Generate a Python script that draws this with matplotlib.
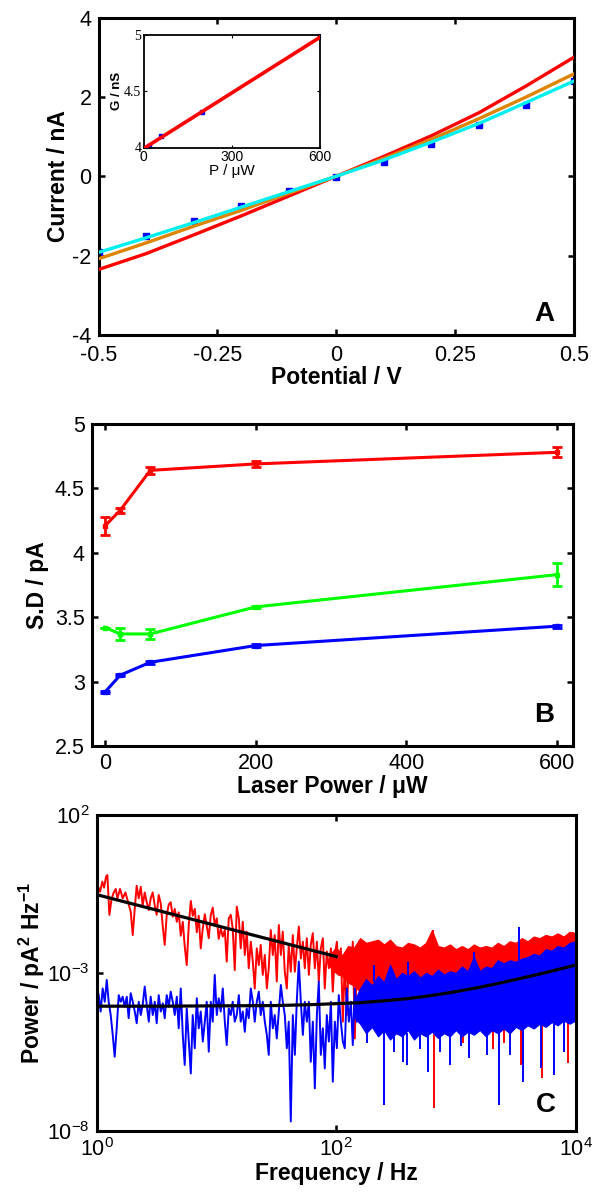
import numpy as np
import matplotlib
matplotlib.use("Agg")
import matplotlib.pyplot as plt

plt.rcParams['font.family'] = ['Liberation Sans', 'DejaVu Sans']
plt.rcParams['mathtext.fontset'] = 'custom'
plt.rcParams['mathtext.rm'] = 'Liberation Sans'
plt.rcParams['mathtext.bf'] = 'Liberation Sans:bold'
plt.rcParams['mathtext.it'] = 'Liberation Sans:italic'

# ---------------- Panel A data ----------------
iv_potential = [-0.5, -0.4, -0.3, -0.2, -0.1, 0.0, 0.1, 0.2, 0.3, 0.4, 0.5]
iv_red = [-2.35, -1.95, -1.48, -1.00, -0.50, 0.0, 0.50, 1.02, 1.60, 2.28, 3.00]
iv_orange = [-2.08, -1.68, -1.26, -0.86, -0.43, 0.0, 0.45, 0.93, 1.45, 2.00, 2.58]
iv_cyan = [-1.92, -1.55, -1.17, -0.78, -0.39, 0.0, 0.41, 0.86, 1.33, 1.86, 2.40]
iv_blue_pts = [-1.92, -1.50, -1.13, -0.74, -0.38, -0.03, 0.37, 0.81, 1.30, 1.80, 2.40]

inset_power = [0, 20, 60, 200, 600]
inset_g = [4.00, 4.01, 4.10, 4.315, 4.98]
inset_fit_p = [0, 600]
inset_fit_g = [3.99, 4.98]

# ---------------- Panel B data ----------------
laser_power = [0, 20, 60, 200, 600]
sd_red = [4.21, 4.33, 4.64, 4.69, 4.78]
sd_red_err = [0.07, 0.02, 0.03, 0.02, 0.04]
sd_green = [3.42, 3.37, 3.37, 3.58, 3.83]
sd_green_err = [0.0, 0.05, 0.04, 0.01, 0.09]
sd_blue = [2.92, 3.05, 3.15, 3.28, 3.43]
sd_blue_err = [0.01, 0.01, 0.01, 0.01, 0.01]

# ---------------- Panel C data (log10 values) ----------------
red_trace_logf = [0.006, 0.028, 0.047, 0.061, 0.078, 0.089, 0.106, 0.123, 0.139, 0.159, 0.173, 0.195, 0.217,
                  0.240, 0.262, 0.284, 0.301, 0.318, 0.334, 0.351, 0.368, 0.384, 0.401, 0.418, 0.435, 0.451,
                  0.468, 0.485, 0.501, 0.518, 0.535, 0.552, 0.568, 0.585, 0.602, 0.618, 0.635, 0.652, 0.669,
                  0.685, 0.702, 0.719, 0.735, 0.752, 0.769, 0.786, 0.802, 0.819, 0.836, 0.852, 0.869, 0.886,
                  0.903, 0.919, 0.936, 0.953, 0.969, 0.986, 1.003, 1.019, 1.036, 1.053, 1.070, 1.086, 1.103,
                  1.120, 1.136, 1.153, 1.170, 1.187, 1.203, 1.220, 1.237, 1.253, 1.270, 1.287, 1.304, 1.320,
                  1.337, 1.354, 1.370, 1.387, 1.404, 1.421, 1.437, 1.454, 1.471, 1.487, 1.504, 1.521, 1.538,
                  1.554, 1.571, 1.588, 1.604, 1.621, 1.638, 1.655, 1.671, 1.688, 1.705, 1.722, 1.738, 1.755,
                  1.772, 1.788, 1.805, 1.822, 1.839, 1.855, 1.872, 1.889, 1.905, 1.922, 1.939, 1.956, 1.972,
                  1.989, 2.006, 2.022, 2.039, 2.056, 2.072, 2.089, 2.106, 2.123, 2.139, 2.156, 2.173, 2.189]
red_trace_logp = [-0.21, -0.43, -0.11, -0.30, 0.05, 0.10, -1.16, -0.69, -0.48, -0.34, -0.64, -0.34, -0.64,
                  -0.45, -0.76, -1.06, -1.80, -0.95, -0.24, -0.64, -0.27, -0.87, -0.45, -0.76, -1.01, -0.64,
                  -0.45, -0.87, -1.16, -0.53, -0.80, -1.53, -2.11, -1.16, -0.83, -0.76, -1.22, -0.97, -1.38,
                  -1.08, -1.82, -1.38, -2.14, -2.75, -1.48, -0.72, -1.19, -0.97, -1.71, -1.19, -2.22, -1.59,
                  -1.14, -1.50, -1.90, -1.16, -0.93, -1.48, -1.27, -1.92, -1.59, -1.85, -1.64, -2.64, -1.27,
                  -1.16, -1.59, -2.91, -0.90, -1.27, -2.22, -1.38, -2.43, -1.69, -2.85, -2.01, -2.64, -3.49,
                  -2.22, -2.75, -2.11, -3.06, -2.43, -3.49, -2.85, -1.64, -2.43, -1.80, -3.27, -1.48, -2.43,
                  -1.69, -2.96, -3.49, -2.11, -2.96, -1.80, -2.96, -2.22, -1.53, -2.54, -2.01, -2.85, -1.90,
                  -3.06, -2.11, -1.74, -2.85, -2.01, -3.27, -2.22, -1.90, -3.49, -2.32, -2.85, -2.22, -3.59,
                  -2.43, -2.01, -3.06, -2.22, -4.54, -2.64, -4.33, -2.54, -3.27, -2.01, -5.07, -2.54, -3.49]

blue_trace_logf = [0.000, 0.017, 0.033, 0.050, 0.067, 0.084, 0.100, 0.117, 0.134, 0.150, 0.167, 0.184, 0.201,
                   0.217, 0.234, 0.251, 0.267, 0.284, 0.301, 0.318, 0.334, 0.351, 0.368, 0.384, 0.401, 0.418,
                   0.435, 0.451, 0.468, 0.485, 0.501, 0.518, 0.535, 0.552, 0.568, 0.585, 0.602, 0.618, 0.635,
                   0.652, 0.669, 0.685, 0.702, 0.719, 0.735, 0.752, 0.769, 0.786, 0.802, 0.819, 0.836, 0.852,
                   0.869, 0.886, 0.903, 0.919, 0.936, 0.953, 0.969, 0.986, 1.003, 1.019, 1.036, 1.053, 1.070,
                   1.086, 1.103, 1.120, 1.136, 1.153, 1.170, 1.187, 1.203, 1.220, 1.237, 1.253, 1.270, 1.287,
                   1.304, 1.320, 1.337, 1.354, 1.370, 1.387, 1.404, 1.421, 1.437, 1.454, 1.471, 1.487, 1.504,
                   1.521, 1.538, 1.554, 1.571, 1.588, 1.604, 1.621, 1.638, 1.655, 1.671, 1.688, 1.705, 1.722,
                   1.738, 1.755, 1.772, 1.788, 1.805, 1.822, 1.839, 1.855, 1.872, 1.889, 1.905, 1.922, 1.939,
                   1.956, 1.972, 1.989, 2.006, 2.022, 2.039, 2.056, 2.072, 2.089, 2.106, 2.123, 2.139, 2.156,
                   2.173, 2.189]
blue_trace_logp = [-3.43, -3.70, -4.22, -3.49, -3.91, -3.22, -3.91, -4.33, -4.96, -5.65, -4.75, -3.70, -3.91,
                   -3.75, -4.07, -3.75, -4.43, -3.64, -3.91, -4.22, -4.59, -3.91, -4.33, -4.01, -3.43, -4.01,
                   -4.54, -3.75, -4.33, -3.91, -4.59, -3.70, -4.22, -3.96, -4.43, -3.70, -4.07, -3.59, -3.91,
                   -4.33, -3.75, -4.75, -3.49, -4.96, -5.91, -4.12, -5.17, -6.18, -4.33, -5.38, -3.80, -4.75,
                   -4.22, -5.17, -4.54, -3.91, -5.49, -3.91, -4.54, -3.06, -4.33, -3.80, -4.22, -3.49, -4.54,
                   -5.28, -4.12, -4.33, -3.91, -4.54, -4.33, -3.70, -4.54, -4.22, -4.86, -4.12, -4.43, -3.49,
                   -3.91, -4.54, -3.91, -3.59, -4.33, -3.91, -4.54, -4.96, -5.59, -3.91, -4.75, -4.33, -5.07,
                   -4.22, -3.38, -3.91, -4.33, -5.38, -4.54, -7.70, -4.33, -5.59, -3.91, -2.64, -3.91, -4.96,
                   -3.91, -4.54, -3.91, -5.81, -4.54, -6.65, -4.33, -3.27, -5.59, -4.75, -6.02, -4.33, -5.17,
                   -3.91, -6.44, -4.54, -5.38, -3.70, -4.54, -5.17, -5.38, -3.49, -4.54, -3.91, -5.28, -3.49,
                   -4.54, -4.12]

band_logf_red = [1.95, 2.00, 2.05, 2.10, 2.15, 2.20, 2.25, 2.30, 2.35, 2.40, 2.45, 2.50,
                 2.55, 2.60, 2.65, 2.70, 2.75, 2.80, 2.85, 2.90, 2.95, 3.00, 3.05, 3.10, 3.15, 3.20, 3.25,
                 3.30, 3.35, 3.40, 3.45, 3.50, 3.55, 3.60, 3.65, 3.70, 3.75, 3.80, 3.85, 3.90, 3.95, 4.00]
red_band_hi = [-2.40, -2.20, -2.45, -2.15, -2.20, -1.90, -2.05, -2.00, -1.95, -2.10,
               -1.95, -2.15, -2.20, -2.05, -2.10, -2.20, -2.05, -1.65, -2.15, -2.20, -2.10, -2.25, -2.15,
               -2.25, -2.10, -2.20, -2.15, -2.20, -2.05, -2.15, -2.00, -2.05, -1.90, -2.00, -1.85, -1.90,
               -1.80, -1.85, -1.75, -1.85, -1.70, -1.75]
red_band_lo = [-2.80, -3.00, -3.10, -3.30, -3.40, -3.60, -3.80, -4.00, -4.30, -4.20,
               -4.40, -4.30, -4.50, -4.40, -4.50, -4.50, -4.50, -4.50, -4.50, -4.50, -4.50, -4.50, -4.50,
               -4.50, -4.50, -4.50, -4.50, -4.50, -4.50, -4.50, -4.50, -4.50, -4.50, -4.50, -4.50, -4.50,
               -4.50, -4.50, -4.50, -4.50, -4.50, -4.50]

band_logf_blue = [2.15, 2.20, 2.25, 2.30, 2.35, 2.40, 2.45, 2.50, 2.55, 2.60, 2.65, 2.70, 2.75, 2.80,
                  2.85, 2.90, 2.95, 3.00, 3.05, 3.10, 3.15, 3.20, 3.25, 3.30, 3.35, 3.40, 3.45, 3.50, 3.55,
                  3.60, 3.65, 3.70, 3.75, 3.80, 3.85, 3.90, 3.95, 4.00]
blue_band_hi = [-3.90, -3.50, -3.20, -3.40, -3.10, -3.30, -2.75, -3.20, -3.00, -3.10, -2.95, -3.15,
                -3.00, -3.10, -2.90, -3.05, -2.95, -3.00, -2.80, -2.95, -2.50, -2.95, -2.80, -2.85, -2.60,
                -2.70, -2.60, -2.65, -2.55, -2.50, -2.40, -2.45, -2.25, -2.30, -2.15, -2.20, -2.05, -2.00]
blue_band_lo = [-4.40, -4.60, -4.90, -4.70, -5.00, -4.80, -5.10, -4.90, -5.00, -4.80, -5.10, -4.90,
                -5.00, -4.85, -5.05, -4.90, -5.00, -4.80, -5.00, -4.85, -4.95, -4.80, -5.00, -4.80, -4.90,
                -4.75, -4.90, -4.70, -4.80, -4.65, -4.75, -4.60, -4.70, -4.55, -4.65, -4.50, -4.60, -4.50]

red_spike_logf = [2.52, 2.81, 2.82, 3.06, 3.31, 3.40, 3.54, 3.72, 3.94, 3.98]
red_spike_base = [-4.30, -2.10, -4.50, -4.50, -4.50, -4.50, -4.50, -4.50, -4.50, -2.00]
red_spike_tip = [-4.95, -1.64, -7.28, -5.20, -5.40, -5.20, -5.91, -6.33, -5.86, -1.69]

blue_spike_logf = [2.26, 2.32, 2.40, 2.48, 2.56, 2.59, 2.60, 2.70, 2.77, 2.87, 2.95, 3.04, 3.11, 3.15,
                   3.26, 3.36, 3.45, 3.53, 3.56, 3.71, 3.82, 3.90]
blue_spike_base = [-4.60, -3.30, -4.80, -4.80, -4.90, -4.90, -3.10, -4.90, -4.90, -4.90, -4.90, -4.90,
                   -4.85, -2.90, -4.90, -4.80, -4.80, -2.60, -4.70, -4.60, -4.55, -4.50]
blue_spike_tip = [-5.20, -2.75, -7.18, -5.50, -5.81, -5.91, -2.64, -5.40, -6.12, -5.50, -5.91, -5.30,
                  -5.70, -2.32, -5.60, -7.18, -5.60, -1.53, -6.44, -6.00, -6.23, -5.50]

fit_red_logf = [0.0, 1.0, 2.0]
fit_red_logp = [-0.52, -1.50, -2.48]
fit_blue_logf = [0.0, 0.5, 1.0, 1.5, 1.8, 2.0, 2.2, 2.4, 2.6, 2.8, 3.0, 3.2, 3.4, 3.6, 3.8, 4.0]
fit_blue_logp = [-4.05, -4.05, -4.04, -4.03, -4.00, -3.97, -3.94, -3.88, -3.81, -3.71, -3.59, -3.45,
                 -3.29, -3.12, -2.94, -2.75]

# ---------------- Figure ----------------
W, H = 597, 1197
fig = plt.figure(figsize=(W / 100, H / 100), dpi=100)

RED = '#ff0000'
ORANGE = '#dd8500'
CYAN = '#00f0f0'
BLUE = '#0000ff'
GREEN = '#00ff00'

TICK_FS = 15.5
LABEL_FS = 16.5
LETTER_FS = 20


def ax_rect(l, t, r, b):
    return [l / W, 1 - b / H, (r - l) / W, (b - t) / H]


def style_axes(ax, lw=2.2, xpad=5):
    for s in ax.spines.values():
        s.set_linewidth(lw)
    ax.tick_params(direction='in', top=True, right=True, length=4, width=1.8,
                   labelsize=TICK_FS, pad=5)
    ax.tick_params(axis='x', pad=xpad)


# ----- Panel A -----
axA = fig.add_axes(ax_rect(98.5, 17.5, 574, 335))
axA.plot(iv_potential, iv_blue_pts, 's', color=BLUE, ms=4.5, zorder=2)
axA.plot(iv_potential, iv_red, '-', color=RED, lw=2.4, zorder=3)
axA.plot(iv_potential, iv_orange, '-', color=ORANGE, lw=2.4, zorder=4)
axA.plot(iv_potential, iv_cyan, '-', color=CYAN, lw=2.4, zorder=5)
axA.set_xlim(-0.5, 0.5)
axA.set_ylim(-4, 4)
axA.set_xticks([-0.5, -0.25, 0, 0.25, 0.5])
axA.set_xticklabels(['-0.5', '-0.25', '0', '0.25', '0.5'])
axA.set_yticks([-4, -2, 0, 2, 4])
axA.set_yticklabels(['-4', '-2', '0', '2', '4'])
style_axes(axA, xpad=7)
axA.set_xlabel('Potential / V', fontsize=LABEL_FS, fontweight='bold', labelpad=0)
axA.set_ylabel('Current / nA', fontsize=LABEL_FS, fontweight='bold', labelpad=2)
axA.text(0.937, 0.065, 'A', transform=axA.transAxes, fontsize=LETTER_FS, fontweight='bold',
         ha='center', va='center')

# inset
axI = fig.add_axes(ax_rect(143.5, 35, 320, 147.5))
axI.plot(inset_power, inset_g, 's', color=BLUE, ms=3.5, zorder=2)
axI.plot(inset_fit_p, inset_fit_g, '-', color=RED, lw=2.6, zorder=3)
axI.set_xlim(0, 600)
axI.set_ylim(4, 5)
axI.set_xticks([0, 300, 600])
axI.set_yticks([4, 4.5, 5])
axI.set_yticklabels(['4', '4.5', '5'])
for s in axI.spines.values():
    s.set_linewidth(1.3)
axI.tick_params(direction='in', top=True, right=True, length=2.5, width=0.8, labelsize=10, pad=1.5)
for lab in axI.get_yticklabels():
    lab.set_family(['Liberation Serif'])
axI.set_xlabel('P / \u03bcW', fontsize=11, labelpad=0)
axI.set_ylabel('G / nS', fontsize=9.5, fontweight='bold', labelpad=1)

# ----- Panel B -----
axB = fig.add_axes(ax_rect(91.6, 424, 572.5, 746))
for y, e, c in [(sd_red, sd_red_err, RED), (sd_green, sd_green_err, GREEN), (sd_blue, sd_blue_err, BLUE)]:
    axB.errorbar(laser_power, y, yerr=e, color=c, lw=2.2, elinewidth=2.0, capsize=3.4, capthick=2.0,
                 marker='s', ms=3.5)
axB.set_xlim(-18, 621)
axB.set_ylim(2.5, 5)
axB.set_xticks([0, 200, 400, 600])
axB.set_yticks([2.5, 3, 3.5, 4, 4.5, 5])
axB.set_yticklabels(['2.5', '3', '3.5', '4', '4.5', '5'])
style_axes(axB)
axB.set_xlabel('Laser Power / \u03bcW', fontsize=LABEL_FS, fontweight='bold', labelpad=1)
axB.set_ylabel('S.D / pA', fontsize=LABEL_FS, fontweight='bold', labelpad=4)
axB.text(0.941, 0.096, 'B', transform=axB.transAxes, fontsize=LETTER_FS, fontweight='bold',
         ha='center', va='center')

# ----- Panel C -----
axC = fig.add_axes(ax_rect(96.7, 815, 575.6, 1131))
p10 = lambda a: np.power(10.0, np.asarray(a))
# red
axC.fill_between(p10(band_logf_red), p10(red_band_lo), p10(red_band_hi), color=RED, lw=1.0, zorder=1)
axC.plot(p10(red_trace_logf), p10(red_trace_logp), '-', color=RED, lw=1.4, zorder=1)
axC.vlines(p10(red_spike_logf), p10(red_spike_base), p10(red_spike_tip), color=RED, lw=1.4, zorder=1)
# blue
axC.fill_between(p10(band_logf_blue), p10(blue_band_lo), p10(blue_band_hi), color=BLUE, lw=1.0, zorder=2)
axC.plot(p10(blue_trace_logf), p10(blue_trace_logp), '-', color=BLUE, lw=1.4, zorder=2)
axC.vlines(p10(blue_spike_logf), p10(blue_spike_base), p10(blue_spike_tip), color=BLUE, lw=1.4, zorder=2)
# fits
axC.plot(p10(fit_red_logf), p10(fit_red_logp), '-', color='black', lw=2.3, zorder=4)
axC.plot(p10(fit_blue_logf), p10(fit_blue_logp), '-', color='black', lw=2.3, zorder=4)
axC.set_xscale('log')
axC.set_yscale('log')
axC.set_xlim(1, 1e4)
axC.set_ylim(1e-8, 1e2)
axC.set_xticks([1, 1e2, 1e4])
axC.set_xticklabels([r'$10^{0}$', r'$10^{2}$', r'$10^{4}$'])
axC.set_yticks([1e-8, 1e-3, 1e2])
axC.set_yticklabels([r'$10^{-8}$', r'$10^{-3}$', r'$10^{2}$'])
axC.minorticks_off()
style_axes(axC)
axC.set_xlabel('Frequency / Hz', fontsize=LABEL_FS, fontweight='bold', labelpad=1)
axC.set_ylabel(r'Power / pA$^{\mathbf{2}}$ Hz$^{\mathbf{-1}}$', fontsize=LABEL_FS, fontweight='bold',
               labelpad=0)
axC.text(0.937, 0.082, 'C', transform=axC.transAxes, fontsize=LETTER_FS, fontweight='bold',
         ha='center', va='center')

fig.savefig('out.png', dpi=100)
